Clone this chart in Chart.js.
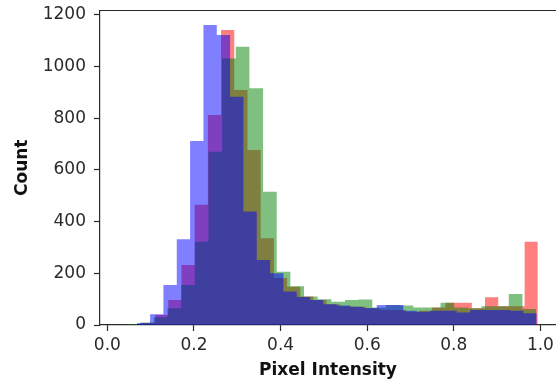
<!DOCTYPE html>
<html>
<head>
<meta charset="utf-8">
<script src="https://cdn.jsdelivr.net/npm/chart.js@4.4.1/dist/chart.umd.min.js"></script>
<style>
html,body{margin:0;padding:0;background:#fff;overflow:hidden}
#wrap{width:556px;height:383px}
</style>
</head>
<body>
<div id="wrap"><canvas id="c" width="556" height="383"></canvas></div>
<script>
// Histogram bin ranges (30 bins per channel, matplotlib-style)
const binCount = 30;
const redRange = [0.0797, 0.994];
const greenRange = [0.0443, 0.990];
const blueRange = [0.0679, 0.9916];

// Counts per bin
const redCounts = [8, 39, 97, 232, 465, 813, 1142, 910, 677, 336,
  182, 148, 110, 97, 80, 73, 71, 65, 58, 58,
  51, 55, 68, 86, 86, 65, 107, 73, 73, 322];
const greenCounts = [3, 10, 30, 65, 155, 322, 671, 1032, 1077, 916,
  516, 206, 150, 110, 100, 90, 97, 99, 68, 77,
  75, 68, 68, 86, 68, 65, 73, 73, 120, 62];
const blueCounts = [8, 42, 155, 332, 712, 1161, 1123, 884, 439, 252,
  200, 130, 108, 97, 80, 75, 71, 66, 77, 77,
  55, 51, 55, 55, 48, 58, 58, 58, 55, 45];

const xTicks = [0.0, 0.2, 0.4, 0.6, 0.8, 1.0];
const yTicks = [0, 200, 400, 600, 800, 1000, 1200];

function histPoints(range, counts) {
  const w = (range[1] - range[0]) / binCount;
  const pts = [{x: range[0], y: 0}];
  counts.forEach((c, i) => pts.push({x: range[0] + (i + 1) * w, y: c}));
  return pts;
}

const FONT = 'DejaVu Sans';
const AX = '#2a2a2a';

function noPad(s) {
  s.paddingTop = 0; s.paddingBottom = 0; s.paddingLeft = 0; s.paddingRight = 0;
}

// top spine of the axes frame (right spine lies outside the cropped picture)
const topSpine = {
  id: 'topSpine',
  afterDatasetsDraw(chart) {
    const {ctx, chartArea} = chart;
    ctx.save();
    ctx.strokeStyle = AX;
    ctx.lineWidth = 1.2;
    ctx.beginPath();
    ctx.moveTo(chartArea.left, chartArea.top);
    ctx.lineTo(chart.width, chartArea.top);
    ctx.stroke();
    ctx.restore();
  }
};

new Chart(document.getElementById('c'), {
  type: 'line',
  data: {
    datasets: [
      {label: 'Red', data: histPoints(redRange, redCounts), order: 3,
       stepped: 'after', fill: 'origin', backgroundColor: 'rgba(255,0,0,0.5)',
       borderWidth: 0, pointRadius: 0},
      {label: 'Green', data: histPoints(greenRange, greenCounts), order: 2,
       stepped: 'after', fill: 'origin', backgroundColor: 'rgba(0,128,0,0.5)',
       borderWidth: 0, pointRadius: 0},
      {label: 'Blue', data: histPoints(blueRange, blueCounts), order: 1,
       stepped: 'after', fill: 'origin', backgroundColor: 'rgba(0,0,255,0.5)',
       borderWidth: 0, pointRadius: 0}
    ]
  },
  plugins: [topSpine],
  options: {
    responsive: false,
    animation: false,
    devicePixelRatio: 1,
    layout: {padding: {top: 10.5, left: 0, right: 0, bottom: 0}, autoPadding: false},
    plugins: {legend: {display: false}, tooltip: {enabled: false}},
    scales: {
      x: {
        type: 'linear', position: 'bottom', min: -0.017, max: 1.036,
        afterFit: s => { s.height = 58; noPad(s); },
        afterBuildTicks: s => { s.ticks = xTicks.map(v => ({value: v})); },
        ticks: {callback: v => v.toFixed(1), color: AX, padding: 4, maxRotation: 0,
                font: {family: FONT, size: 17}},
        grid: {display: true, drawOnChartArea: false, drawTicks: true, tickLength: 6, color: AX, tickWidth: 1.2},
        border: {display: true, color: AX, width: 1.2},
        title: {display: true, text: 'Pixel Intensity', color: '#111',
                font: {family: FONT, size: 17, weight: 'bold'}, padding: {top: 0, bottom: 2}}
      },
      y: {
        type: 'linear', position: 'left', min: 0, max: 1217.4,
        afterFit: s => { s.width = 100; noPad(s); },
        afterBuildTicks: s => { s.ticks = yTicks.map(v => ({value: v})); },
        ticks: {callback: v => String(v), color: AX, padding: 8,
                font: {family: FONT, size: 17}},
        grid: {display: true, drawOnChartArea: false, drawTicks: true, tickLength: 6, color: AX, tickWidth: 1.2},
        border: {display: true, color: AX, width: 1.2},
        title: {display: true, text: 'Count', color: '#111',
                font: {family: FONT, size: 17, weight: 'bold'}, padding: {top: 12, bottom: 0}}
      }
    }
  }
});
</script>
</body>
</html>
